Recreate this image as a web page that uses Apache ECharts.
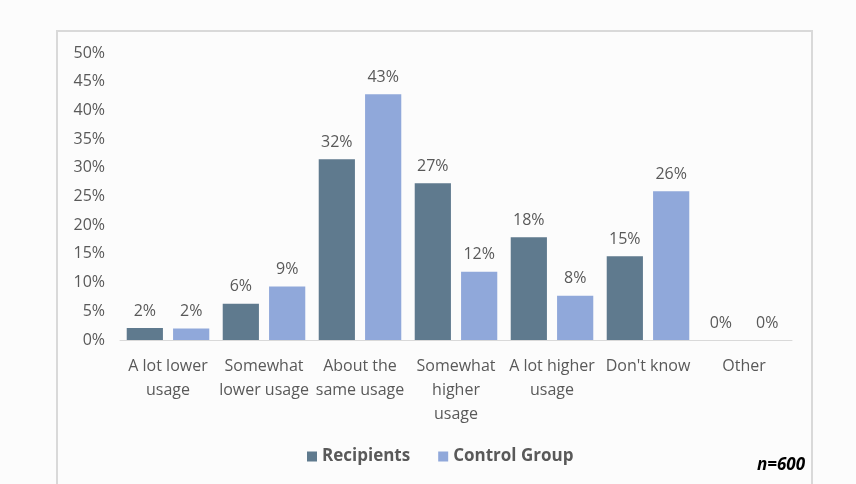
<!DOCTYPE html>
<html><head><meta charset="utf-8">
<script src="https://cdn.jsdelivr.net/npm/echarts@6/dist/echarts.min.js"></script>
<style>html,body{margin:0;padding:0;background:#fcfcfc;}#c{width:856px;height:484px;}</style>
</head><body><div id="c"></div>
<script>
const categories = ["A lot lower\nusage", "Somewhat\nlower usage", "About the\nsame usage", "Somewhat\nhigher\nusage", "A lot higher\nusage", "Don't know", "Other"];
const recipients = [2.1, 6.3, 31.5, 27.3, 17.9, 14.6, 0];
const controlGroup = [2.0, 9.3, 42.8, 11.9, 7.7, 25.9, 0];
const yTicks = [0, 5, 10, 15, 20, 25, 30, 35, 40, 45, 50];

const font = "'Open Sans', sans-serif";
const chart = echarts.init(document.getElementById('c'), null, {renderer: 'canvas'});
const lbl = {show: true, position: 'top', distance: 9, color: '#595959', fontSize: 16, fontFamily: font,
  formatter: p => Math.round(p.value) + '%'};
chart.setOption({
  backgroundColor: '#fcfcfc',
  animation: false,
  textStyle: {fontFamily: font},
  grid: {left: 120, right: 64, top: 53, bottom: 144},
  legend: {
    bottom: 14, left: 302, itemWidth: 10, itemHeight: 10, itemGap: 28,
    icon: 'rect',
    textStyle: {color: '#595959', fontSize: 17, fontWeight: 'bold', fontFamily: font},
    data: ['Recipients', 'Control Group']
  },
  xAxis: {
    type: 'category', data: categories,
    axisLine: {lineStyle: {color: '#d9d9d9'}},
    axisTick: {show: false},
    axisLabel: {color: '#595959', fontSize: 16, lineHeight: 24, margin: 14, interval: 0, fontFamily: font}
  },
  yAxis: {
    type: 'value', min: yTicks[0], max: yTicks[yTicks.length - 1], interval: 5,
    axisLine: {show: false}, axisTick: {show: false}, splitLine: {show: false},
    axisLabel: {color: '#595959', fontSize: 16, margin: 15, formatter: v => v + '%', fontFamily: font}
  },
  graphic: [
    {type: 'rect', shape: {x: 57, y: 31, width: 755, height: 470}, style: {fill: 'none', stroke: '#d9d9d9', lineWidth: 2}, z: -1},
    {type: 'text', right: 51, top: 457, style: {text: 'n=600', fill: '#000', font: "italic bold 17px 'Open Sans', sans-serif"}}
  ],
  series: [
    {name: 'Recipients', type: 'bar', data: recipients, barGap: '28%', barCategoryGap: '14%',
     itemStyle: {color: '#5f7a8e'}, label: lbl},
    {name: 'Control Group', type: 'bar', data: controlGroup,
     itemStyle: {color: '#90a8da'}, label: lbl}
  ]
});
</script></body></html>
